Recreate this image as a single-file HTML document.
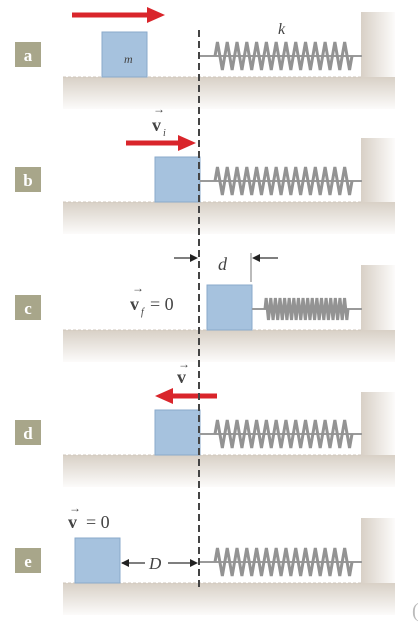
<!DOCTYPE html>
<html><head><meta charset="utf-8"><style>
html,body{margin:0;padding:0;background:#fff;}
svg{display:block;}
text{font-family:"Liberation Serif",serif;}
</style></head><body>
<svg width="420" height="627" viewBox="0 0 420 627">
<defs>
<linearGradient id="fl" x1="0" y1="0" x2="0" y2="1"><stop offset="0" stop-color="#d8d0c6"/><stop offset="1" stop-color="#fcfbfa"/></linearGradient>
<linearGradient id="wl" x1="0" y1="0" x2="1" y2="0"><stop offset="0" stop-color="#d8d0c6"/><stop offset="1" stop-color="#fcfbfa"/></linearGradient>
</defs>
<g id="panels"></g>
<line x1="199" y1="30" x2="199" y2="588" stroke="#444" stroke-width="2" stroke-dasharray="7,4"/>
<text x="412" y="617" font-size="20" fill="#bbb">(</text>
</svg>
<script>
const NS='http://www.w3.org/2000/svg';
const g=document.getElementById('panels');
function el(t,a,p){const e=document.createElementNS(NS,t);for(const k in a)e.setAttribute(k,a[k]);(p||g).appendChild(e);return e;}
const floors=[77,202,330,455,583];
const walls=[12,138,265,392,518];
const labels=['a','b','c','d','e'];
const blocks=[102,155,207,155,75];
const springs=[[200,215,352,14,14],[200,215,352,14,14],[252,265,348,11,18],[200,215,352,14,14],[200,215,352,14,14]];
floors.forEach((f,i)=>{
  const grp=el('g',{});
  
  
  el('rect',{x:63,y:f,width:332,height:32,fill:'url(#fl)'},grp);
  el('rect',{x:361,y:walls[i],width:34,height:f-walls[i],fill:'url(#wl)'},grp);
  el('line',{x1:63,y1:f,x2:362,y2:f,stroke:'#cfc6bb','stroke-width':1,'stroke-dasharray':'3,2'},grp);
  el('rect',{x:15,y:f-35,width:26,height:25,fill:'#a8a68a'},grp);
  const t=el('text',{x:28,y:f-16,'font-size':17,'font-family':'Liberation Sans, sans-serif','text-anchor':'middle',fill:'#fff','font-weight':'bold'},grp);t.textContent=labels[i];
  const b=blocks[i];
  el('rect',{x:b,y:f-45,width:45,height:45,fill:'#a6c2de',stroke:'#8aaacb','stroke-width':1},grp);
  const cy=f-21,[s0,c0,c1,amp,n]=springs[i];
  el('line',{x1:s0,y1:cy,x2:362,y2:cy,stroke:'#9a9a9a','stroke-width':2},grp);
  let d='M'+c0+' '+cy;
  for(let k=0;k<n;k++){const x=c0+(c1-c0)*(k+0.5)/n;d+=' L'+(x-(c1-c0)/n/4)+' '+(cy-amp)+' L'+(x+(c1-c0)/n/4)+' '+(cy+amp);}
  d+=' L'+c1+' '+cy;
  el('path',{d:d,fill:'none',stroke:'#939393','stroke-width':3},grp);
});
function arrow(x1,x2,y,name){const a=el('g',{});
  const dir=x2>x1?1:-1;
  el('line',{x1:x1,y1:y,x2:x2-dir*14,y2:y,stroke:'#d9252b','stroke-width':5},a);
  el('polygon',{points:`${x2},${y} ${x2-dir*18},${y-8} ${x2-dir*18},${y+8}`,fill:'#d9252b'},a);}
arrow(72,165,15,'velocity-arrow-a');
arrow(126,196,143,'velocity-arrow-b');
arrow(217,155,396,'velocity-arrow-d');
function txt(x,y,s,sz,name,it){const t=el('text',{x:x,y:y,'font-size':sz,fill:'#444','font-style':it?'italic':'normal'});t.textContent=s;return t;}
txt(124,63,'m',12,'mass-label',true);
txt(278,34,'k',16,'spring-constant-label',true);
txt(152,131,'v',18,'vi-label',false).setAttribute('font-weight','bold');
txt(163,136,'i',10,'vi-subscript',true);
txt(153,113,'→',12,'vi-vector-mark');
txt(130,310,'v',18,'vf-label').setAttribute('font-weight','bold');
txt(141,315,'f',10,'vf-subscript',true);
txt(132,292,'→',12,'vf-vector-mark');
txt(150,310,'= 0',18,'vf-equals-zero');
txt(218,270,'d',18,'compression-d-label',true);
el('line',{x1:174,y1:258,x2:196,y2:258,stroke:'#555','stroke-width':1.5});
el('polygon',{points:'198,258 190,254 190,262',fill:'#222'});
el('line',{x1:254,y1:258,x2:278,y2:258,stroke:'#555','stroke-width':1.5});
el('polygon',{points:'252,258 260,254 260,262',fill:'#222'});
el('line',{x1:251,y1:253,x2:251,y2:282,stroke:'#777','stroke-width':1});
txt(177,383,'v',18,'vd-label').setAttribute('font-weight','bold');
txt(178,368,'→',12,'vd-vector-mark');
txt(68,528,'v',18,'ve-label').setAttribute('font-weight','bold');
txt(69,512,'→',12,'ve-vector-mark');
txt(86,528,'= 0',18,'ve-equals-zero');
el('line',{x1:122,y1:563,x2:145,y2:563,stroke:'#555','stroke-width':1.5});
el('line',{x1:168,y1:563,x2:196,y2:563,stroke:'#555','stroke-width':1.5});
el('polygon',{points:'121,563 129,559 129,567',fill:'#222'});
el('polygon',{points:'198,563 190,559 190,567',fill:'#222'});
txt(149,569,'D',17,'distance-D-label',true);
</script>
</body></html>
